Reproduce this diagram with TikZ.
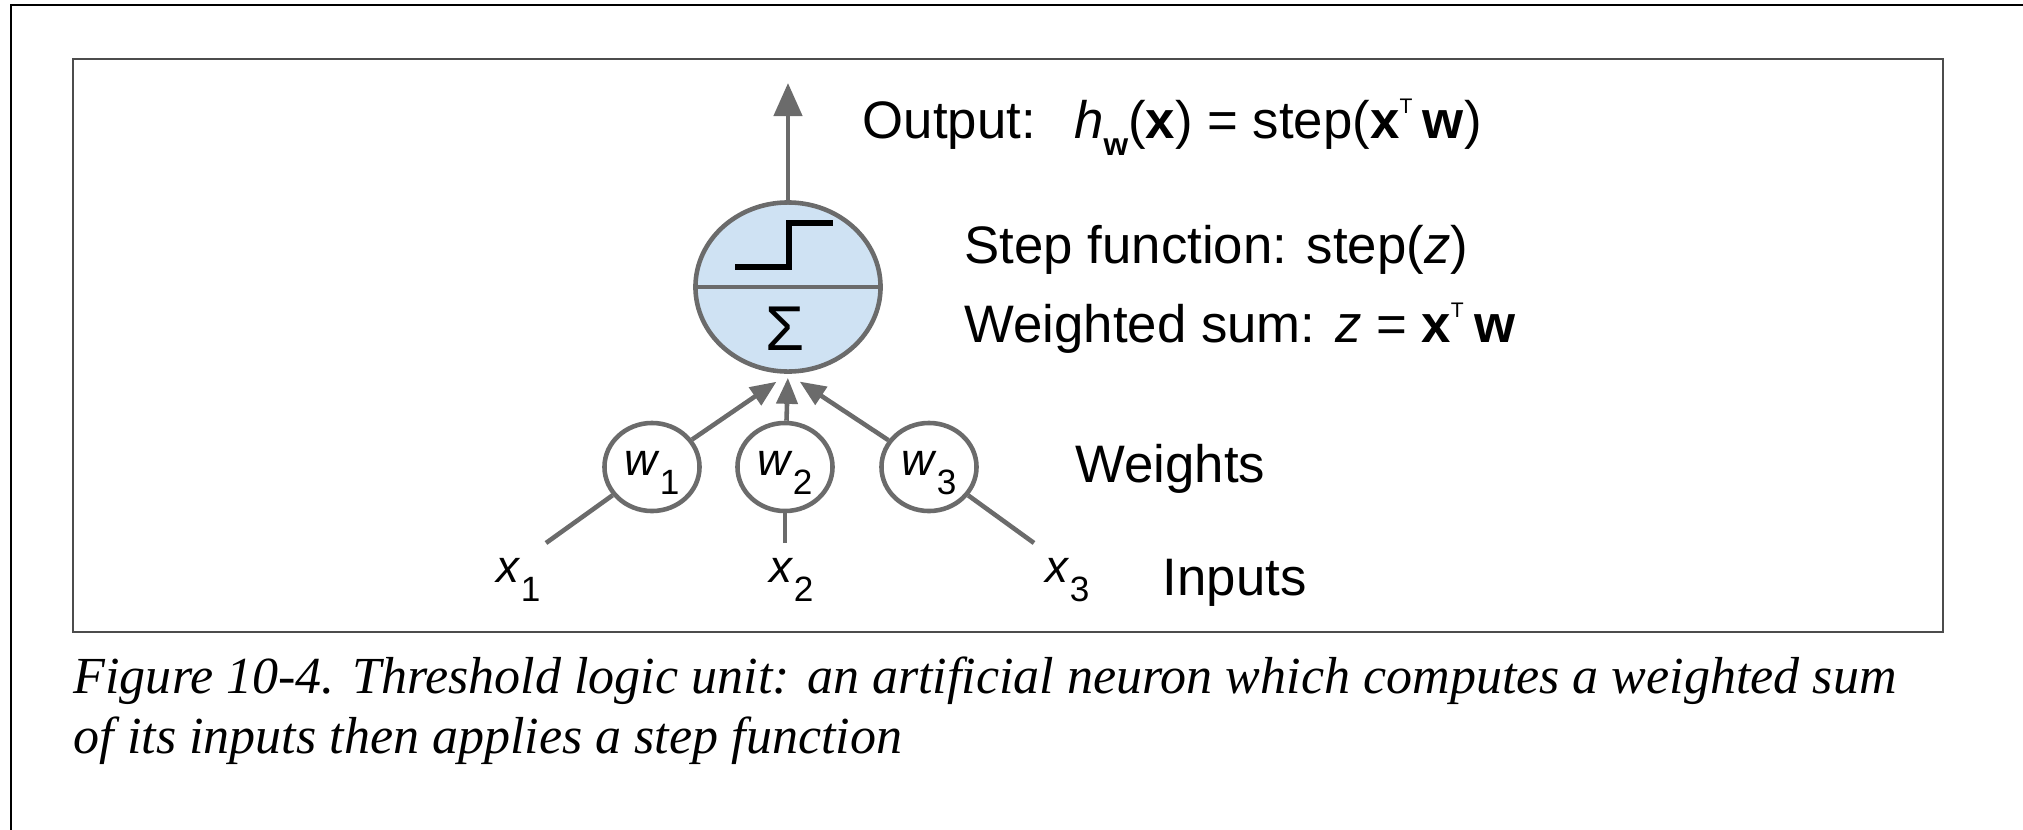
\documentclass[tikz,border=0pt]{standalone}
\usepackage{fontspec}
\setmainfont{Liberation Sans}
\newfontfamily\capfont{Liberation Serif}
\usetikzlibrary{arrows.meta, calc, positioning, shapes.geometric}
\definecolor{linegray}{HTML}{6B6B6B}
\definecolor{sumblue}{HTML}{CFE2F3}
\newcommand{\varsub}[2]{\textit{#1}\raisebox{-5.5pt}{\fontsize{10}{10}\selectfont #2}}
\newcommand{\tsup}{\raisebox{7pt}{\fontsize{6}{6}\selectfont T}}

\begin{document}
\begin{tikzpicture}[
        x=0.01cm, y=-0.01cm,
        wire/.style={draw=linegray, line width=1.3pt},
        arr/.style={wire, -{Triangle[length=0.26cm, width=0.21cm]}},
        unit/.style={ellipse, draw=linegray, line width=1.3pt, fill=sumblue, inner sep=0pt,
            minimum width=1.85cm, minimum height=1.69cm},
        weight/.style={ellipse, draw=linegray, line width=1.3pt, fill=white, inner sep=0pt,
            minimum width=0.95cm, minimum height=0.88cm, text depth=2.3pt, font=\fontsize{13}{13}\selectfont},
        lbl/.style={anchor=base west, inner sep=0pt, font=\fontsize{15}{18}\selectfont},
        captext/.style={anchor=base west, inner sep=0pt, font=\capfont\itshape\fontsize{14.8}{17}\selectfont}
    ]
        \useasboundingbox (0,0) rectangle (2023,830);
        \draw[line width=0.6pt] (11,830) -- (11,5) -- (2023,5);
        \draw[draw=black!70, line width=0.7pt] (73,59) rectangle (1943,632);

        \node[unit] (sum) at (788,287) {};
        \draw[wire] (sum.west) -- (sum.east);
        \draw[line width=1.7pt] ($(sum)+(-53,-20)$) -- ++(54,0) -- ++(0,-44) -- ++(44,0);
        \node[font=\fontsize{18}{18}\selectfont] (sigma) at (785,329) {Σ};

        \node[weight] (w1) at (652,467) {\varsub{w}{1}};
        \node[weight] (w2) at (785,467) {\varsub{w}{2}};
        \node[weight] (w3) at (929,467) {\varsub{w}{3}};

        \coordinate (in1) at (546,543);
        \coordinate (in2) at (785,543);
        \coordinate (in3) at (1034,543);
        \coordinate (out) at (788,83);
        \node[lbl, font=\fontsize{13}{13}\selectfont] (x1) at (496,582) {\varsub{x}{1}};
        \node[lbl, font=\fontsize{13}{13}\selectfont] (x2) at (769,582) {\varsub{x}{2}};
        \node[lbl, font=\fontsize{13}{13}\selectfont] (x3) at (1045,582) {\varsub{x}{3}};

        \draw[wire] (in1) -- (w1);
        \draw[wire] (in2) -- (w2);
        \draw[wire] (in3) -- (w3);
        \draw[arr, shorten >=0.14cm] (w1) -- (sum.south);
        \draw[arr, shorten >=0.04cm] (w2) -- (sum.south);
        \draw[arr, shorten >=0.14cm] (w3) -- (sum.south);
        \draw[wire, -{Triangle[length=0.33cm, width=0.28cm]}] (sum) -- (out);

        \node[lbl] (outtxt) at (862,138) {Output:\hspace{11pt}\textit{h}\raisebox{-5pt}{\fontsize{9}{9}\selectfont\bfseries w}(\textbf{x}) = step(\textbf{x}\tsup\hspace{3pt}\textbf{w})};
        \node[lbl] (steptxt) at (964,263) {Step function: step(\textit{z})};
        \node[lbl] (sumtxt) at (964,342) {Weighted sum: \textit{z} = \textbf{x}\tsup\hspace{3pt}\textbf{w}};
        \node[lbl] (wtxt) at (1075,482) {Weights};
        \node[lbl] (intxt) at (1162,595) {Inputs};

        \node[captext] (cap1) at (73,693) {Figure 10-4. Threshold logic unit: an artificial neuron which computes a weighted sum};
        \node[captext] (cap2) at (73,753) {of its inputs then applies a step function};
    \end{tikzpicture}
\end{document}
